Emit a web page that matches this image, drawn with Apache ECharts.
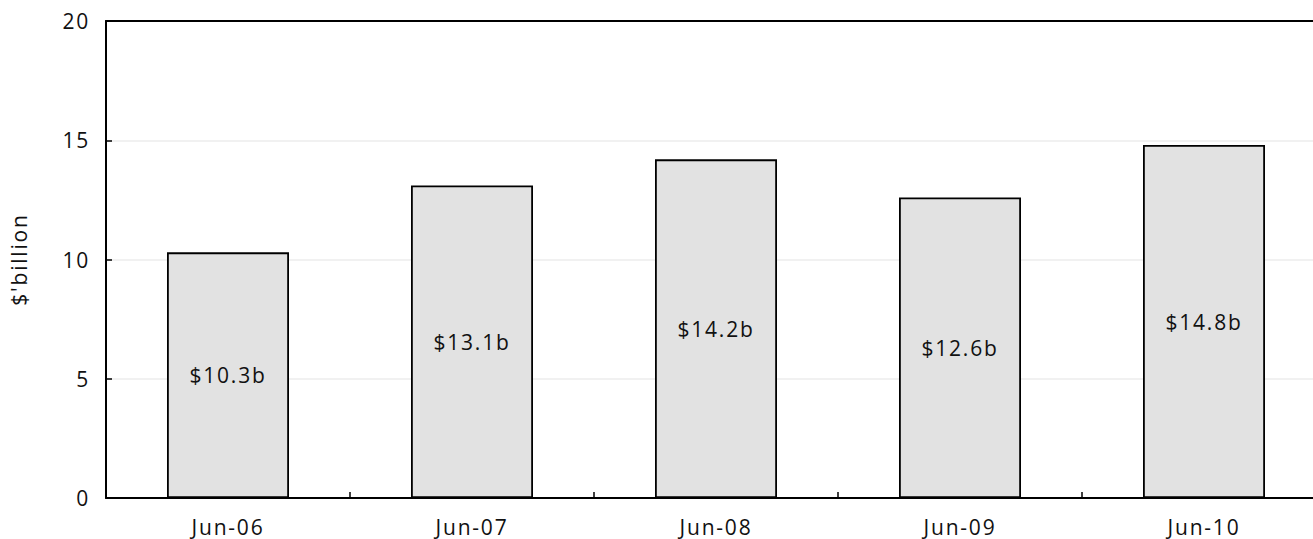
<!DOCTYPE html>
<html>
<head>
<meta charset="utf-8">
<script src="https://cdn.jsdelivr.net/npm/echarts@6/dist/echarts.min.js"></script>
<style>
  html, body { margin: 0; padding: 0; background: #fff; }
  #chart { width: 1313px; height: 539px; letter-spacing: 1.8px; }
</style>
</head>
<body>
<div id="chart"></div>
<script>
// Annual totals, $ billion, at end of June each year
const categories = ['Jun-06', 'Jun-07', 'Jun-08', 'Jun-09', 'Jun-10'];
const values = [10.3, 13.1, 14.2, 12.6, 14.8];
const yTicks = [0, 5, 10, 15, 20];

const FONT = "'Open Sans', 'Noto Sans', sans-serif";
const FS = 21;
const chart = echarts.init(document.getElementById('chart'), null, { renderer: 'svg' });

chart.setOption({
  animation: false,
  backgroundColor: '#ffffff',
  textStyle: { fontFamily: FONT, color: '#111' },
  grid: { left: 106, top: 21, width: 1220, bottom: 41, containLabel: false, outerBoundsMode: 'none' },
  xAxis: [
    {
      type: 'category',
      data: categories,
      position: 'bottom',
      axisLine: { lineStyle: { color: '#000', width: 2 } },
      axisTick: { show: true, inside: true, length: 6, alignWithLabel: false,
                  lineStyle: { color: '#000', width: 1.5 } },
      axisLabel: { fontSize: FS, color: '#111', margin: 18, fontFamily: FONT },
      splitLine: { show: false }
    },
    {
      // top border of the plot frame
      type: 'category',
      data: categories,
      position: 'top',
      axisLine: { lineStyle: { color: '#000', width: 2 } },
      axisTick: { show: false },
      axisLabel: { show: false },
      splitLine: { show: false }
    }
  ],
  yAxis: {
    type: 'value',
    min: yTicks[0],
    max: yTicks[yTicks.length - 1],
    interval: yTicks[1] - yTicks[0],
    name: "$'billion",
    nameLocation: 'middle',
    nameRotate: 90,
    nameGap: 77,
    nameTextStyle: { fontSize: FS, color: '#111', fontFamily: FONT },
    axisLine: { show: true, lineStyle: { color: '#000', width: 2 } },
    axisTick: { show: true, inside: true, length: 6, lineStyle: { color: '#000', width: 1.5 } },
    axisLabel: { fontSize: FS, color: '#111', margin: 16, fontFamily: FONT },
    splitLine: { show: true, lineStyle: { color: '#ededed', width: 1.5 } }
  },
  series: [{
    type: 'bar',
    data: values,
    xAxisIndex: 0,
    barWidth: '50%',
    itemStyle: { color: '#e2e2e2', borderColor: '#000', borderWidth: 1.8 },
    label: {
      show: true,
      position: 'inside',
      fontSize: FS,
      color: '#111',
      fontFamily: FONT,
      formatter: p => '$' + p.value.toFixed(1) + 'b'
    }
  }]
});
</script>
</body>
</html>
